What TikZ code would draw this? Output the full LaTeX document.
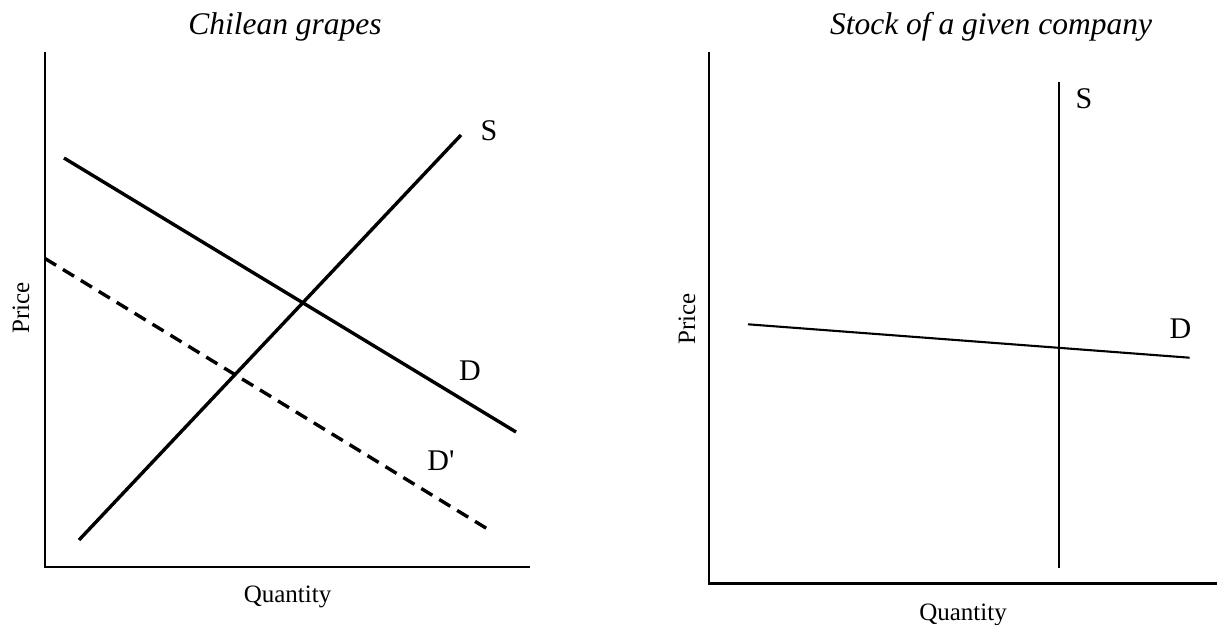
\documentclass[tikz,border=0pt]{standalone}
\usepackage{fontspec}
\setmainfont{Liberation Serif}
\begin{document}
\begin{tikzpicture}[x=1pt,y=-1pt,
  axis/.style={line width=2.3pt},
  curve/.style={line width=3.4pt},
  thincurve/.style={line width=2.1pt},
  dcurve/.style={line width=3.4pt, dash pattern=on 13pt off 8pt},
  title/.style={font=\fontsize{31.5}{36}\selectfont\itshape, anchor=base, inner sep=0pt},
  lbl/.style={font=\fontsize{30}{34}\selectfont, anchor=base, inner sep=0pt},
  axlbl/.style={font=\fontsize{25}{30}\selectfont, inner sep=0pt}]
\useasboundingbox (0,0) rectangle (1217,624);
% ---------- left panel ----------
\coordinate (LO) at (45,567);
\coordinate (LT) at (45,51.5);
\coordinate (LR) at (530,567);
\draw[axis] (LT) -- (LO) -- (LR);
\node[title] (t1) at (285,34) {Chilean grapes};
\coordinate (D1a) at (64,158);
\coordinate (D1b) at (516,432);
\draw[curve] (D1a) -- (D1b);
\coordinate (S1a) at (79,540);
\coordinate (S1b) at (461,135);
\draw[curve] (S1a) -- (S1b);
\coordinate (D2a) at (45,258.5);
\coordinate (D2b) at (490,530.5);
\draw[dcurve] (D2a) -- (D2b);
\node[lbl] (s1) at (489,140) {S};
\node[lbl] (d1) at (470,380) {D};
\node[lbl] (d2) at (441,470) {D\textquotesingle};
\node[axlbl, rotate=90] (p1) at (21,308) {Price};
\node[axlbl, anchor=base] (q1) at (287.5,602) {Quantity};
% ---------- right panel ----------
\coordinate (RO) at (709,583.5);
\coordinate (RT) at (709,51.5);
\coordinate (RR) at (1217,583.5);
\draw[axis] (RT) -- (RO) -- (RR);
\node[title] (t2) at (991,34) {Stock of a given company};
\coordinate (S3a) at (1059,81.5);
\coordinate (S3b) at (1059,568);
\draw[thincurve] (S3a) -- (S3b);
\coordinate (D3a) at (748,324.3);
\coordinate (D3b) at (1189.6,357.7);
\draw[thincurve] (D3a) -- (D3b);
\node[lbl] (s3) at (1084,108) {S};
\node[lbl] (d3) at (1180.5,338) {D};
\node[axlbl, rotate=90] (p2) at (687,319) {Price};
\node[axlbl, anchor=base] (q2) at (963,620) {Quantity};
\end{tikzpicture}
\end{document}
